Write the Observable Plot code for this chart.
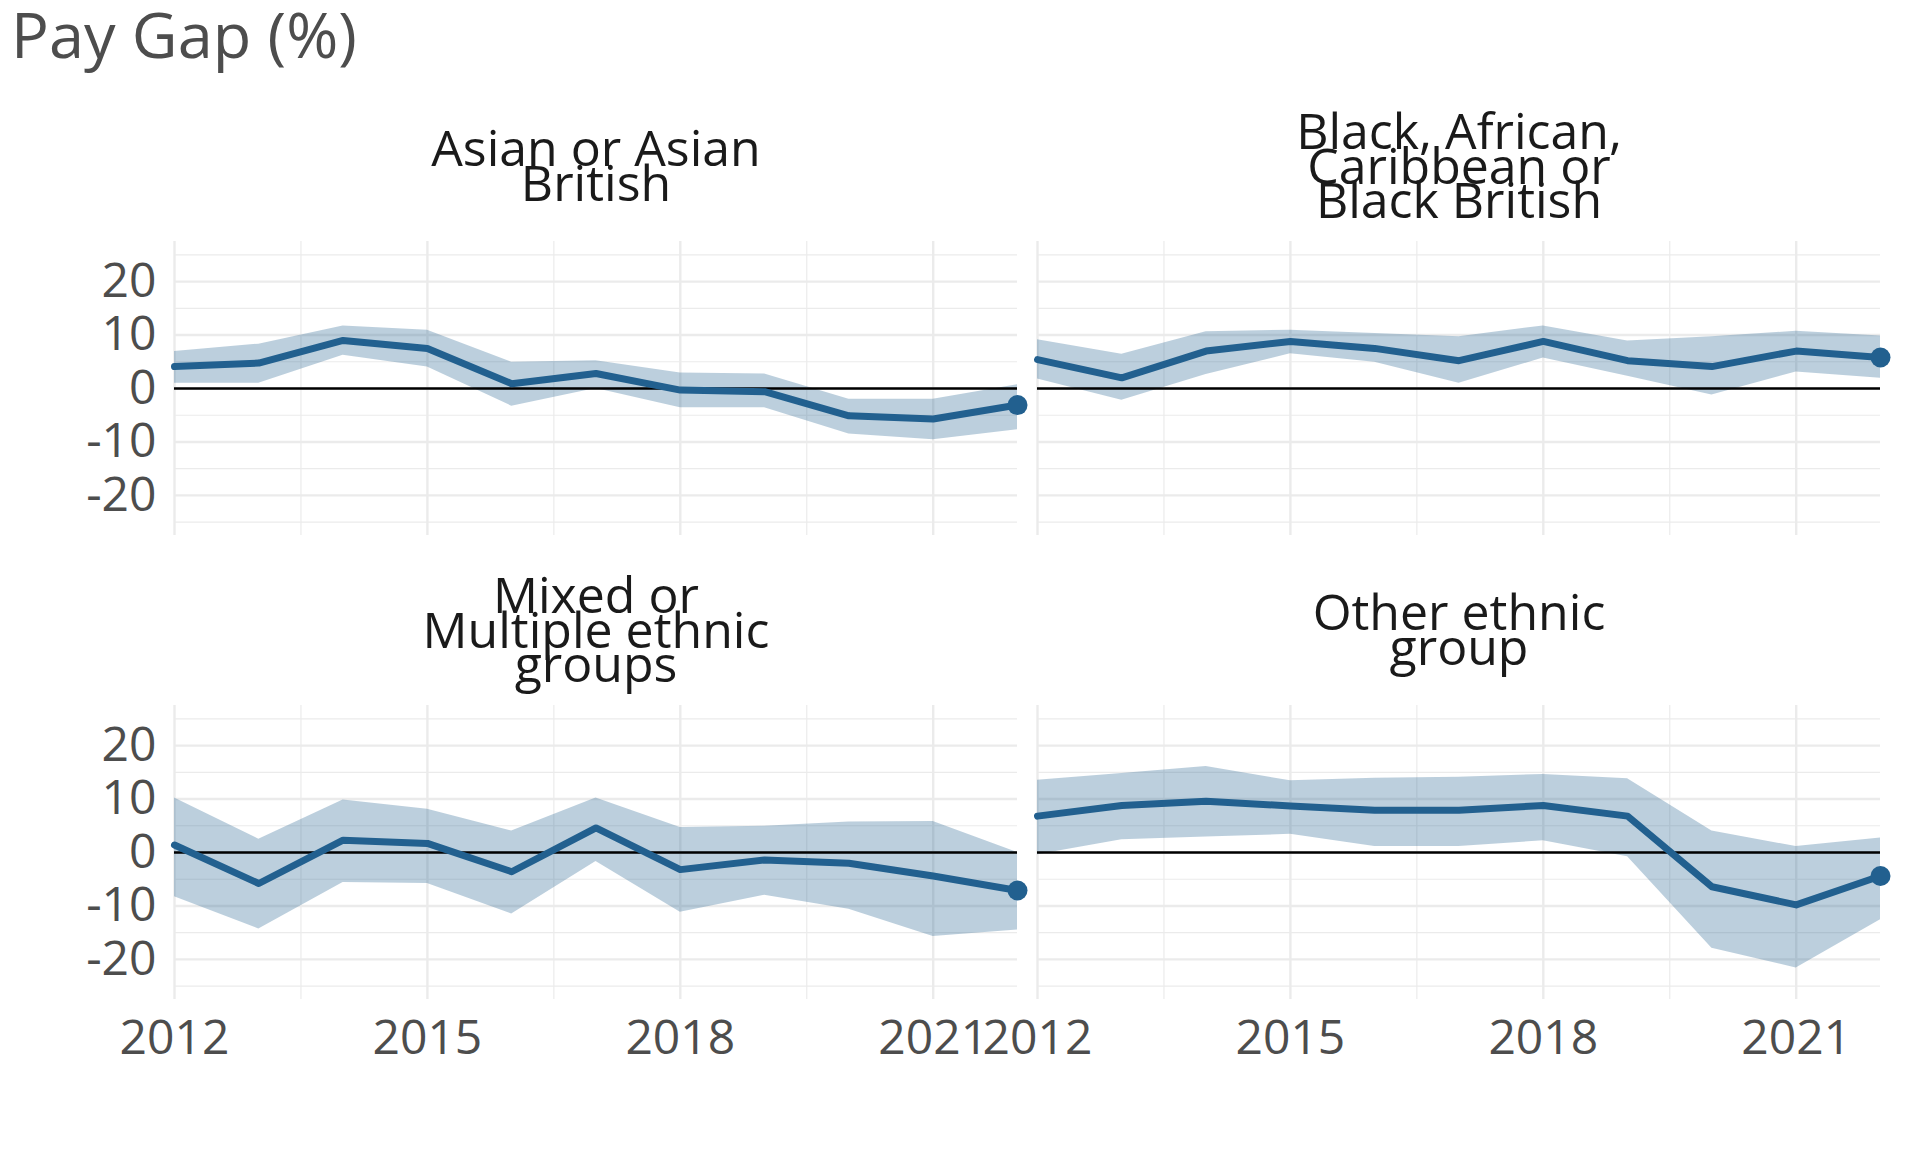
<!DOCTYPE html>
<html><head><meta charset="utf-8">
<script src="https://cdn.jsdelivr.net/npm/d3@7"></script>
<script src="https://cdn.jsdelivr.net/npm/@observablehq/plot@0.6"></script>
<style>
html,body{margin:0;padding:0;background:#fff;}
#title{font-family:"Open Sans";font-size:63px;line-height:86px;color:#4d4d4d;padding:0 0 0 11px;height:90px;margin-top:-9px;margin-bottom:9px;white-space:nowrap;}
#chart svg{display:block;}
</style></head><body>
<div id="title">Pay Gap (%)</div>
<div id="chart"></div>
<script>
const years = [2012, 2013, 2014, 2015, 2016, 2017, 2018, 2019, 2020, 2021, 2022];
const categories = ["Asian or Asian British", "Black, African, Caribbean or Black British", "Mixed or Multiple ethnic groups", "Other ethnic group"];
const stripLabels = ["Asian or Asian\nBritish", "Black, African,\nCaribbean or\nBlack British", "Mixed or\nMultiple ethnic\ngroups", "Other ethnic\ngroup"];

const asianGap   = [4.1, 4.75, 9.0, 7.5, 0.9, 2.8, -0.3, -0.6, -5.1, -5.7, -3.1];
const asianLower = [1.0, 1.0, 6.2, 4.0, -3.3, 0.0, -3.6, -3.6, -8.5, -9.6, -7.7];
const asianUpper = [6.9, 8.3, 11.7, 10.9, 4.9, 5.2, 2.9, 2.7, -2.0, -2.0, 0.7];

const blackGap   = [5.4, 2.0, 7.0, 8.8, 7.5, 5.2, 8.8, 5.2, 4.1, 7.0, 5.8];
const blackLower = [1.8, -2.2, 2.6, 6.5, 4.9, 1.0, 5.7, 2.3, -1.2, 3.1, 1.9];
const blackUpper = [9.1, 6.4, 10.6, 10.9, 10.3, 9.7, 11.7, 8.9, 9.7, 10.7, 9.8];

const mixedGap   = [1.4, -5.8, 2.3, 1.7, -3.6, 4.6, -3.2, -1.4, -2.0, -4.4, -7.1];
const mixedLower = [-8.3, -14.3, -5.6, -5.8, -11.5, -1.7, -11.2, -8.0, -10.6, -15.7, -14.5];
const mixedUpper = [10.2, 2.5, 9.8, 8.1, 4.0, 10.2, 4.7, 4.9, 5.7, 5.8, 0.0];

const otherGap   = [6.8, 8.8, 9.6, 8.7, 7.9, 7.9, 8.8, 6.8, -6.4, -9.8, -4.4];
const otherLower = [-0.4, 2.4, 2.9, 3.4, 1.1, 1.1, 2.2, -0.8, -17.9, -21.6, -12.6];
const otherUpper = [13.5, 14.8, 16.1, 13.4, 13.9, 14.1, 14.6, 13.8, 4.0, 1.1, 2.7];

const xTicks = [2012, 2015, 2018, 2021];
const xMinor = [2013.5, 2016.5, 2019.5];
const yTicks = [-20, -10, 0, 10, 20];
const yMinor = [-25, -15, -5, 5, 15, 25];

const gaps = [asianGap, blackGap, mixedGap, otherGap];
const lowers = [asianLower, blackLower, mixedLower, otherLower];
const uppers = [asianUpper, blackUpper, mixedUpper, otherUpper];

const table = categories.flatMap((c, i) => years.map((yr, j) => ({
  group: c, col: i % 2, row: Math.floor(i / 2), year: yr,
  gap: gaps[i][j], lower: lowers[i][j], upper: uppers[i][j]
})));
const strips = categories.map((c, i) => ({group: c, label: stripLabels[i], col: i % 2, row: Math.floor(i / 2)}));
const lastPoints = table.filter(d => d.year === years[years.length - 1]);

const blue = "#22608f";
const grid = "#ebebeb";

const chart = Plot.plot({
  width: 1920,
  height: 1062,
  marginLeft: 174,
  marginRight: 40,
  marginTop: 151,
  marginBottom: 153,
  style: {fontFamily: "Open Sans", background: "#fff", overflow: "visible"},
  fx: {axis: null, paddingInner: 20 / 863, paddingOuter: 0},
  fy: {axis: null, paddingInner: 170 / 464, paddingOuter: 0},
  x: {domain: [2012, 2022]},
  y: {domain: [-27.5, 27.5]},
  marks: [
    Plot.gridY(yMinor, {stroke: grid, strokeOpacity: 1, strokeWidth: 1.2}),
    Plot.gridY(yTicks, {stroke: grid, strokeOpacity: 1, strokeWidth: 2.4}),
    Plot.gridX(xMinor, {stroke: grid, strokeOpacity: 1, strokeWidth: 1.2}),
    Plot.gridX(xTicks, {stroke: grid, strokeOpacity: 1, strokeWidth: 2.4}),
    Plot.areaY(table, {x: "year", y1: "lower", y2: "upper", z: "group", fx: "col", fy: "row", fill: blue, fillOpacity: 0.3}),
    Plot.ruleY([0], {stroke: "black", strokeWidth: 2.6}),
    Plot.lineY(table, {x: "year", y: "gap", z: "group", fx: "col", fy: "row", stroke: blue, strokeWidth: 7}),
    Plot.dot(lastPoints, {x: "year", y: "gap", fx: "col", fy: "row", r: 10, fill: blue, stroke: "none"}),
    Plot.text(strips, {fx: "col", fy: "row", text: "label", frameAnchor: "top", dy: -69, lineAnchor: "middle", lineHeight: 0.69, fontSize: 50, fill: "#1a1a1a"}),
    Plot.axisY({ticks: yTicks, tickSize: 0, tickPadding: 18, fontSize: 48, color: "#4d4d4d", tickFormat: d => String(d), label: null}),
    Plot.axisX({ticks: xTicks, tickSize: 0, tickPadding: 20, fontSize: 48, color: "#4d4d4d", tickFormat: d => String(d), label: null})
  ]
});
document.getElementById("chart").appendChild(chart);
</script>
</body></html>
